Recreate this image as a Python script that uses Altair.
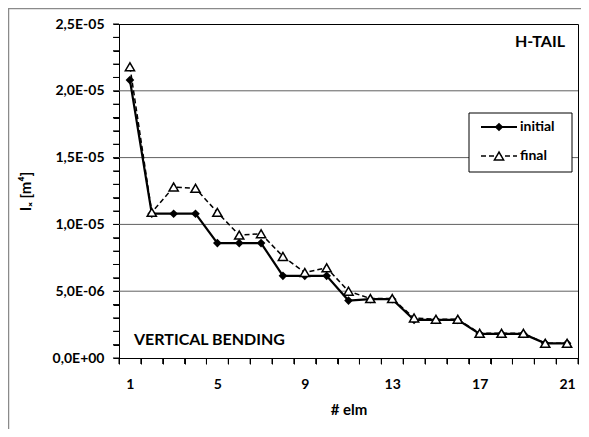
import altair as alt
import pandas as pd

elm = list(range(1, 22))
initial = [2.08e-5, 1.08e-5, 1.08e-5, 1.08e-5, 8.6e-6, 8.6e-6, 8.6e-6,
           6.15e-6, 6.15e-6, 6.15e-6, 4.3e-6, 4.4e-6, 4.4e-6,
           2.85e-6, 2.85e-6, 2.85e-6, 1.8e-6, 1.8e-6, 1.8e-6, 1.1e-6, 1.1e-6]
final = [2.18e-5, 1.09e-5, 1.28e-5, 1.27e-5, 1.09e-5, 9.2e-6, 9.3e-6,
         7.6e-6, 6.4e-6, 6.75e-6, 5.0e-6, 4.45e-6, 4.45e-6,
         3.0e-6, 2.9e-6, 2.9e-6, 1.85e-6, 1.85e-6, 1.85e-6, 1.1e-6, 1.1e-6]
grid_values = [5e-6, 1e-5, 1.5e-5, 2e-5]
tick_values = [i * 1e-6 for i in range(26)]
series_names = ["initial", "final"]
annotations = ["H-TAIL", "VERTICAL BENDING"]

FONT = "Lato"
df = pd.DataFrame({"elm": elm, "initial": initial, "final": final})
one = pd.DataFrame({"k": [0]})

label_expr = (
    "datum.value == 0 ? '0,0E+00' : (round(datum.value*1e6) % 5 != 0 ? '' : "
    "replace(format(datum.value/pow(10,floor(log(datum.value)/LN10+1e-9)),'.1f'),'.',',')"
    " + 'E-0' + (-floor(log(datum.value)/LN10+1e-9)))"
)

x_axis = alt.Axis(
    title="# elm", tickBand="extent", labelAngle=0, ticks=True, domain=True,
    labelExpr="(datum.value-1)%4==0 ? datum.label : ''",
    labelFont=FONT, labelFontWeight="bold", labelFontSize=14, labelColor="black",
    labelPadding=13, tickSize=6, tickWidth=1, tickColor="#000000",
    domainColor="black", domainWidth=1,
    titleFont=FONT, titleFontWeight="bold", titleFontSize=15, titleColor="black",
    titlePadding=11, grid=False,
)
x_scale = alt.Scale(paddingInner=0, paddingOuter=0)
y_axis = alt.Axis(
    title="Iₓ [m⁴]", values=tick_values, labelExpr=label_expr, ticks=True, domain=True,
    labelFont=FONT, labelFontWeight="bold", labelFontSize=14, labelColor="black",
    labelPadding=9, tickSize=6, tickWidth=1, tickColor="#000000",
    domainColor="black", domainWidth=1,
    titleFont=FONT, titleFontWeight="bold", titleFontSize=15, titleColor="black",
    titleX=-86, grid=False,
)
yscale = alt.Scale(domain=[0, 2.5e-5], nice=False)


def X(**kw):
    return alt.X("elm:O", scale=x_scale, axis=x_axis, **kw)


def Y(field):
    return alt.Y(field, scale=yscale, axis=y_axis)


base = alt.Chart(df)

init_line = base.mark_line(strokeWidth=2.2, color="black").encode(x=X(), y=Y("initial:Q"))

grid = alt.Chart(pd.DataFrame({"g": grid_values})).mark_rule(
    color="#606060", strokeWidth=1
).encode(y=Y("g:Q"))

# explicit tick marks along both axes
y_ticks = alt.Chart(pd.DataFrame({"t": tick_values})).mark_rule(
    color="black", strokeWidth=1
).encode(y=Y("t:Q"), x=alt.value(-6), x2=alt.value(0))
x_ticks = base.mark_rule(color="black", strokeWidth=1).encode(
    x=X(bandPosition=0), y=alt.value(334), y2=alt.value(340))
x_tick_end = alt.Chart(one).mark_rule(color="black", strokeWidth=1).encode(
    x=alt.value(459), y=alt.value(334), y2=alt.value(340))

init_pts = base.mark_point(
    shape="diamond", filled=True, color="black", size=75, opacity=1
).encode(x=X(), y=Y("initial:Q"))

final_line = base.mark_line(
    strokeWidth=1.5, color="black", strokeDash=[5, 3]
).encode(x=X(), y=Y("final:Q"))

final_pts = base.mark_point(
    shape="triangle-up", filled=True, fill="white", stroke="black",
    strokeWidth=1.5, size=85, opacity=1
).encode(x=X(), y=Y("final:Q"))

# legend (manual)
leg_box = alt.Chart(one).mark_rect(
    fill="white", stroke="black", strokeWidth=1
).encode(x=alt.value(350), x2=alt.value(453), y=alt.value(89), y2=alt.value(148))
leg_l1 = alt.Chart(one).mark_rule(color="black", strokeWidth=2).encode(
    x=alt.value(362), x2=alt.value(398), y=alt.value(103))
leg_l2 = alt.Chart(one).mark_rule(color="black", strokeWidth=1.5, strokeDash=[5, 3]).encode(
    x=alt.value(362), x2=alt.value(398), y=alt.value(132))
leg_p1 = alt.Chart(one).mark_point(
    shape="diamond", filled=True, color="black", size=75, opacity=1
).encode(x=alt.value(380), y=alt.value(103))
leg_p2 = alt.Chart(one).mark_point(
    shape="triangle-up", filled=True, fill="white", stroke="black",
    strokeWidth=1.5, size=85, opacity=1
).encode(x=alt.value(380), y=alt.value(132))
leg_t1 = alt.Chart(pd.DataFrame({"name": [series_names[0]]})).mark_text(
    align="left", baseline="middle", font=FONT, fontWeight="bold", fontSize=14, color="black"
).encode(x=alt.value(401), y=alt.value(103), text="name:N")
leg_t2 = alt.Chart(pd.DataFrame({"name": [series_names[1]]})).mark_text(
    align="left", baseline="middle", font=FONT, fontWeight="bold", fontSize=14, color="black"
).encode(x=alt.value(401), y=alt.value(132), text="name:N")

ann1 = alt.Chart(pd.DataFrame({"t": [annotations[0]]})).mark_text(
    align="right", baseline="middle", font=FONT, fontWeight="bold", fontSize=16, color="black"
).encode(x=alt.value(446), y=alt.value(18), text="t:N")
ann2 = alt.Chart(pd.DataFrame({"t": [annotations[1]]})).mark_text(
    align="left", baseline="middle", font=FONT, fontWeight="bold", fontSize=16, color="black"
).encode(x=alt.value(15), y=alt.value(316), text="t:N")

# outer chart frame (top and left edges)
frame_top = alt.Chart(one).mark_rule(color="#8a8a8a", strokeWidth=1.5).encode(
    x=alt.value(-111), x2=alt.value(470), y=alt.value(-15.5))
frame_left = alt.Chart(one).mark_rule(color="#8a8a8a", strokeWidth=1.5).encode(
    x=alt.value(-110.5), y=alt.value(-16), y2=alt.value(410))

chart = alt.layer(
    grid, y_ticks, x_ticks, x_tick_end, init_line, init_pts, final_line, final_pts,
    leg_box, leg_l1, leg_l2, leg_p1, leg_p2, leg_t1, leg_t2, ann1, ann2,
    frame_top, frame_left,
).properties(
    width=459, height=334,
    autosize=alt.AutoSizeParams(type="none"),
    padding={"left": 111, "top": 16, "right": 3, "bottom": 71},
).configure_view(stroke="black", strokeWidth=1)

chart.save("out.html", embed_options={"renderer": "svg", "actions": False})
